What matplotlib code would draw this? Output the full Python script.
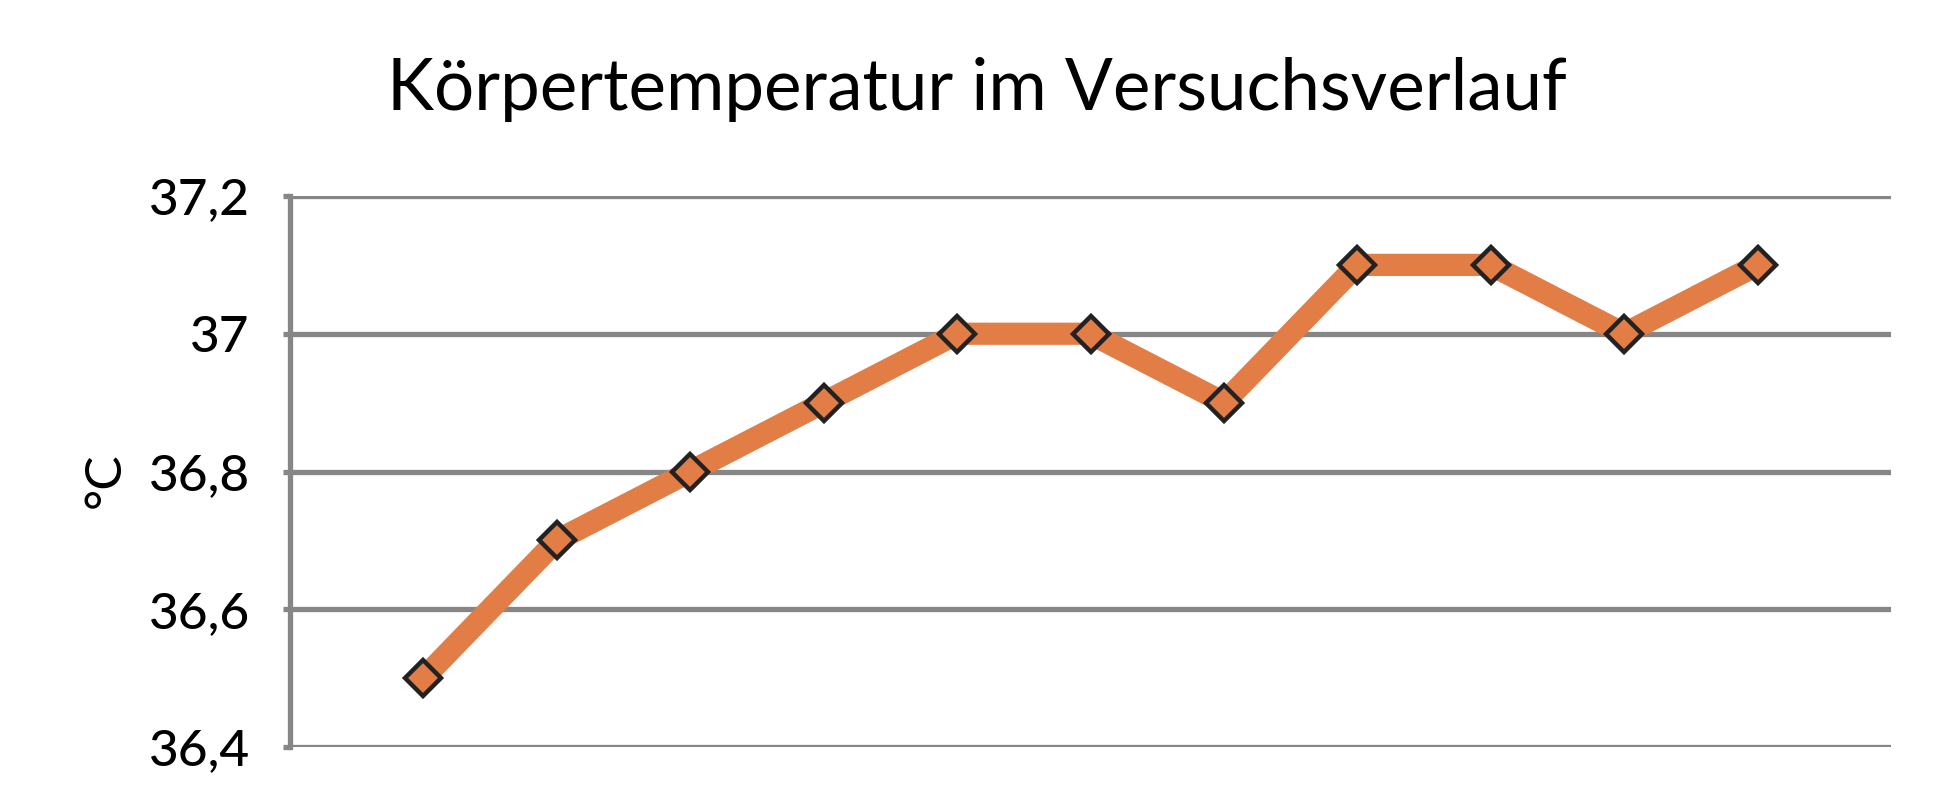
import matplotlib.pyplot as plt
import numpy as np

plt.rcParams['font.family'] = ['Lato', 'DejaVu Sans']

title = "Körpertemperatur im Versuchsverlauf"
ylabel = "°C"
messung = np.arange(1, 12)
temperatur = [36.5, 36.7, 36.8, 36.9, 37.0, 37.0, 36.9, 37.1, 37.1, 37.0, 37.1]
yticks = [36.4, 36.6, 36.8, 37.0, 37.2]
ytick_labels = ["36,4", "36,6", "36,8", "37", "37,2"]

grey = '#868686'
orange = '#E27D46'

fig = plt.figure(figsize=(19.55, 8.05), dpi=100)
ax = fig.add_axes([290 / 1955, 1 - 747 / 805, 1601 / 1955, 551 / 805])

ax.plot(messung, temperatur, color=orange, lw=16, solid_capstyle='round',
        solid_joinstyle='miter', zorder=3)
ax.plot(messung, temperatur, ls='none', marker='D', ms=18, mfc=orange,
        mec='#222222', mew=3.2, zorder=4)

ax.set_xlim(0, 12)
ax.set_ylim(36.4, 37.2)
ax.set_yticks(yticks)
ax.set_yticklabels(ytick_labels, fontsize=37, fontweight='medium')
ax.set_xticks([])
ax.yaxis.grid(True, color=grey, lw=3.8)
ax.set_axisbelow(True)
ax.tick_params(axis='y', length=5, width=3.8, color=grey, pad=24)

for side in ['top', 'right', 'bottom']:
    ax.spines[side].set_visible(False)
ax.spines['left'].set_color(grey)
ax.spines['left'].set_linewidth(3.8)

fig.text(106 / 1955, 1 - 480 / 805, ylabel, rotation=90, fontsize=37,
         ha='center', va='center')
fig.text(977 / 1955, 1 - 89 / 805, title, fontsize=51, ha='center', va='center')

fig.savefig('out.png', dpi=100)
